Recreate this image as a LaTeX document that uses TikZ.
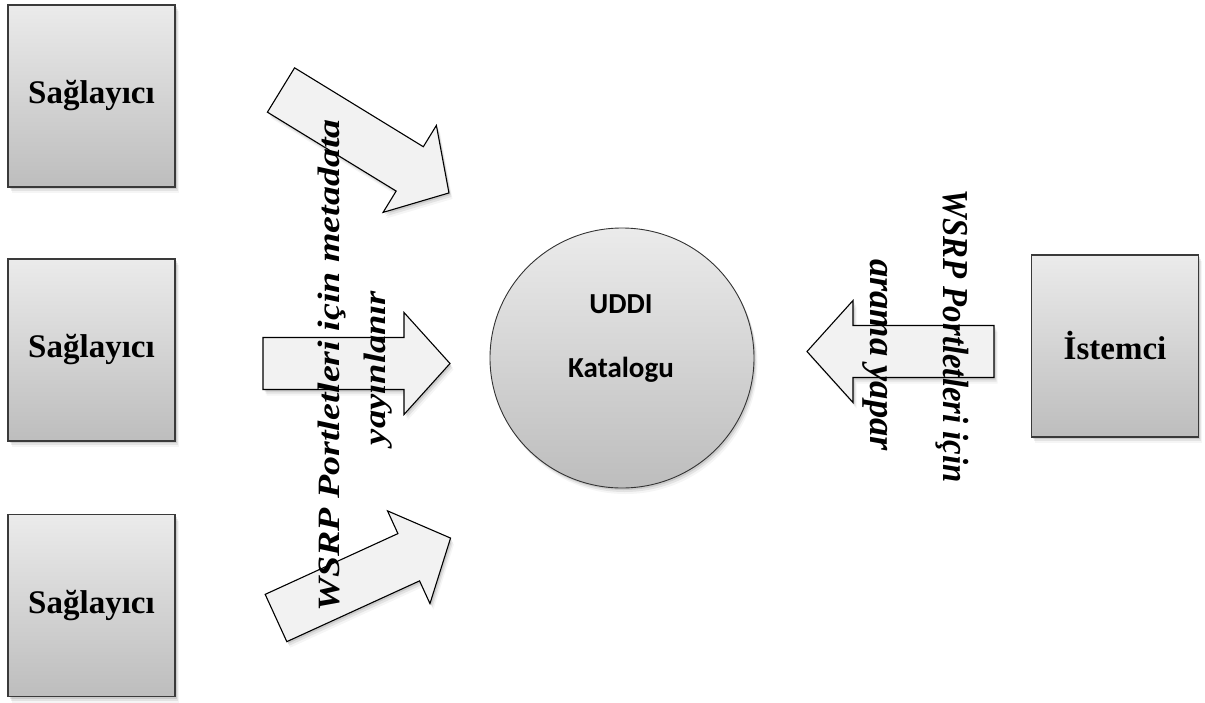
\documentclass[tikz,border=0pt]{standalone}
\usepackage{fontspec}
\setmainfont{Liberation Serif}
\newfontfamily\catalogfont{Carlito}
\usetikzlibrary{shapes.geometric}

\definecolor{boxtop}{HTML}{EBEBEB}
\definecolor{boxbot}{HTML}{BDBDBD}
\definecolor{arrowfill}{HTML}{F2F2F2}
\definecolor{edge}{HTML}{3A3A3A}

% block arrow: #1 tail centre, #2 direction (degrees), #3 length
\newcommand\blockarrow[3]{%
  \begin{scope}[shift={#1},rotate=#2]
    \draw[arrowbody] (0,-26) -- ({#3-46},-26) -- ({#3-46},-51) -- (#3,0)
      -- ({#3-46},51) -- ({#3-46},26) -- (0,26) -- cycle;
  \end{scope}}

\tikzset{
  softshadow/.style={
    preaction={fill=black,opacity=.10,transform canvas={xshift=1.5pt,yshift=-2pt}},
    preaction={fill=black,opacity=.07,transform canvas={xshift=2.5pt,yshift=-4pt}},
    preaction={fill=black,opacity=.04,transform canvas={xshift=3.5pt,yshift=-6pt}}},
  actor/.style={rectangle, draw=edge, line width=1.4pt, top color=boxtop,
    bottom color=boxbot, minimum width=167pt, minimum height=182pt,
    inner sep=0pt, font=\bfseries\fontsize{33}{38}\selectfont, softshadow},
  catalog/.style={ellipse, draw=black!80, line width=0.9pt, top color=boxtop,
    bottom color=boxbot, minimum width=264pt, minimum height=260pt,
    inner sep=0pt, softshadow},
  catlabel/.style={anchor=base, font=\catalogfont\bfseries\fontsize{29}{32}\selectfont},
  arrowbody/.style={draw=black, line width=1.1pt, fill=arrowfill,
    line join=miter, softshadow},
  vlabel/.style={anchor=base, inner sep=0pt,
    font=\bfseries\itshape\fontsize{36.5}{40}\selectfont},
}

\begin{document}
\begin{tikzpicture}[x=1pt,y=-1pt]
  \useasboundingbox[fill=white] (0,0) rectangle (1205,702);

  % providers, client and the registry
  \node[actor] (prov1) at (91.5,96)   {Sağlayıcı};
  \node[actor] (prov2) at (91.5,350)  {Sağlayıcı};
  \node[actor] (prov3) at (91.5,605.5){Sağlayıcı};
  \node[actor] (client) at (1115,346) {İstemci};

  \node[catalog] (uddi) at (622,358) {};
  \node[catlabel] (uddiA) at (621,313) {UDDI};
  \node[catlabel] (uddiB) at (621,377) {Katalogu};

  % publishing arrows towards the registry
  \blockarrow{(281,90)}{-31.5}{197}
  \blockarrow{(263,363.5)}{0}{187}
  \blockarrow{(276,618)}{24.6}{192}
  % search arrow from the client
  \blockarrow{(994,351.5)}{180}{187}

  % arrow labels
  \node[vlabel, rotate=90, xscale=1.04, yscale=0.85] (pubA) at (339,365.5) {WSRP Portletleri için metadata};
  \node[vlabel, rotate=90, yscale=0.85] (pubB) at (385,368) {yayınlanır};
  \node[vlabel, rotate=-90, xscale=0.9] (findA) at (943,336) {WSRP Portletleri için};
  \node[vlabel, rotate=-90] (findB) at (870,355) {arama yapar};
\end{tikzpicture}
\end{document}
